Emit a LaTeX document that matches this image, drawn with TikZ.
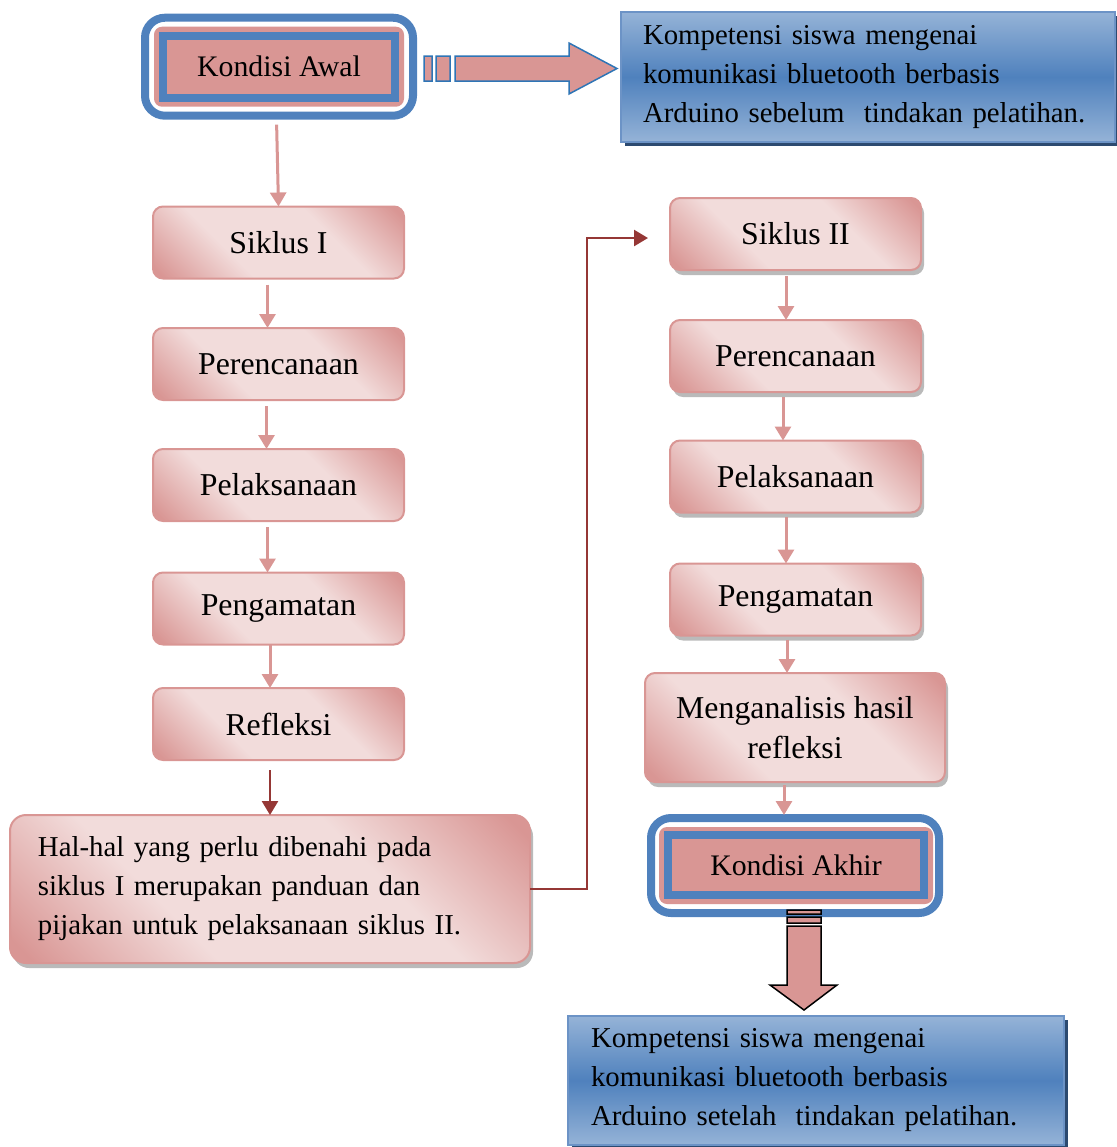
\documentclass[tikz,border=0pt]{standalone}
\usepackage{fontspec}
\setmainfont{Liberation Serif}
\usetikzlibrary{arrows.meta,shadows,backgrounds}

\definecolor{pkline}{HTML}{D99694}
\definecolor{pkdark}{HTML}{D99694}
\definecolor{pklight}{HTML}{F2DCDB}
\definecolor{frblue}{HTML}{4F81BD}
\definecolor{btop}{HTML}{95B3D7}
\definecolor{bmid}{HTML}{4F81BD}
\definecolor{bline}{HTML}{6C93C6}
\definecolor{bshade}{HTML}{2C4A70}
\definecolor{redln}{HTML}{953735}
\definecolor{arrblue}{HTML}{2E75B6}

\pgfdeclareverticalshading{pkshade}{100bp}{color(0bp)=(pkdark); color(17bp)=(pkdark);
  color(37bp)=(pklight); color(63bp)=(pklight); color(83bp)=(pkdark); color(100bp)=(pkdark)}

\begin{document}
\begin{tikzpicture}
      [x=0.5pt, y=-0.5pt,
       every node/.style={font=\fontsize{14.4}{19.5}\selectfont, inner sep=0pt, outer sep=0pt},
       pkbox/.style={draw=pkline, line width=1pt, rounded corners=5pt,
         shading=pkshade, shading angle=-45, font=\fontsize{15.9}{20}\selectfont,
         minimum width=125.5pt, minimum height=36pt},
       pkshadow/.style={drop shadow={shadow xshift=1.5pt, shadow yshift=-2.5pt, fill=black!45, opacity=.6}},
       kondisi/.style={draw=frblue, line width=4pt, fill=pkdark, font=\fontsize{14.9}{19.5}\selectfont},
       bluebox/.style={draw=bline, line width=1pt, top color=btop, bottom color=btop, middle color=bmid,
         align=left, drop shadow={shadow xshift=2pt, shadow yshift=-2pt, fill=bshade, opacity=1}},
       pkarrow/.style={draw=pkline, line width=1.5pt, -{Triangle[length=7pt,width=8pt]}},
       redarrow/.style={draw=redln, line width=1.25pt, -{Triangle[length=7pt,width=8pt]}}]
      \useasboundingbox (0,0) rectangle (1116,1147);
      % start and end
      \node[kondisi, minimum width=116pt, minimum height=31pt] (awal) at (279,66.7) {Kondisi Awal};
      \node[bluebox, minimum width=247pt, minimum height=65pt, text width=225pt] (awalbox) at (868,77)
        {Kompetensi siswa mengenai\\komunikasi bluetooth berbasis\\Arduino sebelum~ tindakan pelatihan.};
      % siklus I
      \node[pkbox] (s1) at (278.5,242.5) {Siklus I};
      \node[pkbox] (p1) at (278.5,364) {Perencanaan};
      \node[pkbox] (l1) at (278.5,485) {Pelaksanaan};
      \node[pkbox] (g1) at (278.5,608.5) {Pengamatan};
      \node[pkbox] (r1) at (278.5,724) {Refleksi};
      \node[pkbox, pkshadow, rounded corners=8pt, minimum width=260pt, minimum height=74pt,
        font=\fontsize{14.4}{19.5}\selectfont, text width=232pt, align=left] (hal) at (270,889)
        {Hal-hal yang perlu dibenahi pada\\siklus I merupakan panduan dan\\pijakan untuk pelaksanaan siklus II.};
      % siklus II
      \node[pkbox, pkshadow] (s2) at (795.5,234) {Siklus II};
      \node[pkbox, pkshadow] (p2) at (795.5,356) {Perencanaan};
      \node[pkbox, pkshadow] (l2) at (795.5,476.5) {Pelaksanaan};
      \node[pkbox, pkshadow] (g2) at (795.5,599.5) {Pengamatan};
      \node[pkbox, pkshadow, minimum width=150pt, minimum height=54.5pt, align=center] (m2) at (795,727.5)
        {Menganalisis hasil\\refleksi};
      \node[kondisi, minimum width=128pt, minimum height=30pt] (akhir) at (796,865) {Kondisi Akhir};
      \node[bluebox, minimum width=248pt, minimum height=64.5pt, text width=225pt] (akhirbox) at (816,1080.5)
        {Kompetensi siswa mengenai\\komunikasi bluetooth berbasis\\Arduino setelah~ tindakan pelatihan.};
      \coordinate (s2in) at ([shift={(-22,4)}]s2.west);
      % frames
      \begin{scope}[on background layer]
        \draw[frblue, line width=4pt, fill=white, rounded corners=10pt]
          ([shift={(-18,-18)}]awal.north west) rectangle ([shift={(18,18)}]awal.south east);
        \fill[pkdark, rounded corners=4pt]
          ([shift={(-9,-9)}]awal.north west) rectangle ([shift={(9,9)}]awal.south east);
        \draw[frblue, line width=4pt, fill=white, rounded corners=10pt]
          ([shift={(-17,-17)}]akhir.north west) rectangle ([shift={(15,18)}]akhir.south east);
        \fill[pkdark, rounded corners=4pt]
          ([shift={(-9,-8)}]akhir.north west) rectangle ([shift={(9,9)}]akhir.south east);
      \end{scope}
      % connectors
      \draw[pkarrow, shorten <=13.5pt] ([xshift=-1.5pt]awal.south) -- (s1.north);
      \draw[pkarrow, shorten <=3pt] ([xshift=-5.5pt]s1.south) -- ([xshift=-5.5pt]p1.north);
      \draw[pkarrow, shorten <=3pt] ([xshift=-6pt]p1.south) -- ([xshift=-6pt]l1.north);
      \draw[pkarrow, shorten <=3pt] ([xshift=-5.5pt]l1.south) -- ([xshift=-5.5pt]g1.north);
      \draw[pkarrow] ([xshift=-4.25pt]g1.south) -- ([xshift=-4.25pt]r1.north);
      \draw[redarrow, shorten <=5pt] ([xshift=-4.25pt]r1.south) -- (hal.north);
      \draw[redarrow] (hal.east) -- ++(57,0) |- (s2in);
      \draw[pkarrow, shorten <=3pt] ([xshift=-4.75pt]s2.south) -- ([xshift=-4.75pt]p2.north);
      \draw[pkarrow, shorten <=2.5pt] ([xshift=-6.25pt]p2.south) -- ([xshift=-6.25pt]l2.north);
      \draw[pkarrow, shorten <=2pt] ([xshift=-4.75pt]l2.south) -- ([xshift=-4.75pt]g2.north);
      \draw[pkarrow, shorten <=2pt] ([xshift=-4.25pt]g2.south) -- ([xshift=-4pt]m2.north);
      \draw[pkarrow, shorten <=1.5pt, shorten >=10pt] ([xshift=-5.5pt]m2.south) -- ([xshift=-6pt]akhir.north);
      % block arrows
      \draw[arrblue, line width=.75pt, fill=pkdark] (424,56) rectangle (432,81) (436,56) rectangle (450,81)
        (455,56) -- (569,56) -- (569,43) -- (617,68.5) -- (569,94) -- (569,81) -- (455,81) -- cycle;
      \draw[black, line width=.75pt, fill=pkdark] (787,910) rectangle (821,914) (787,917) rectangle (821,923)
        (787,926) -- (821,926) -- (821,985) -- (837,985) -- (804,1010) -- (770,985) -- (787,985) -- cycle;
\end{tikzpicture}
\end{document}
